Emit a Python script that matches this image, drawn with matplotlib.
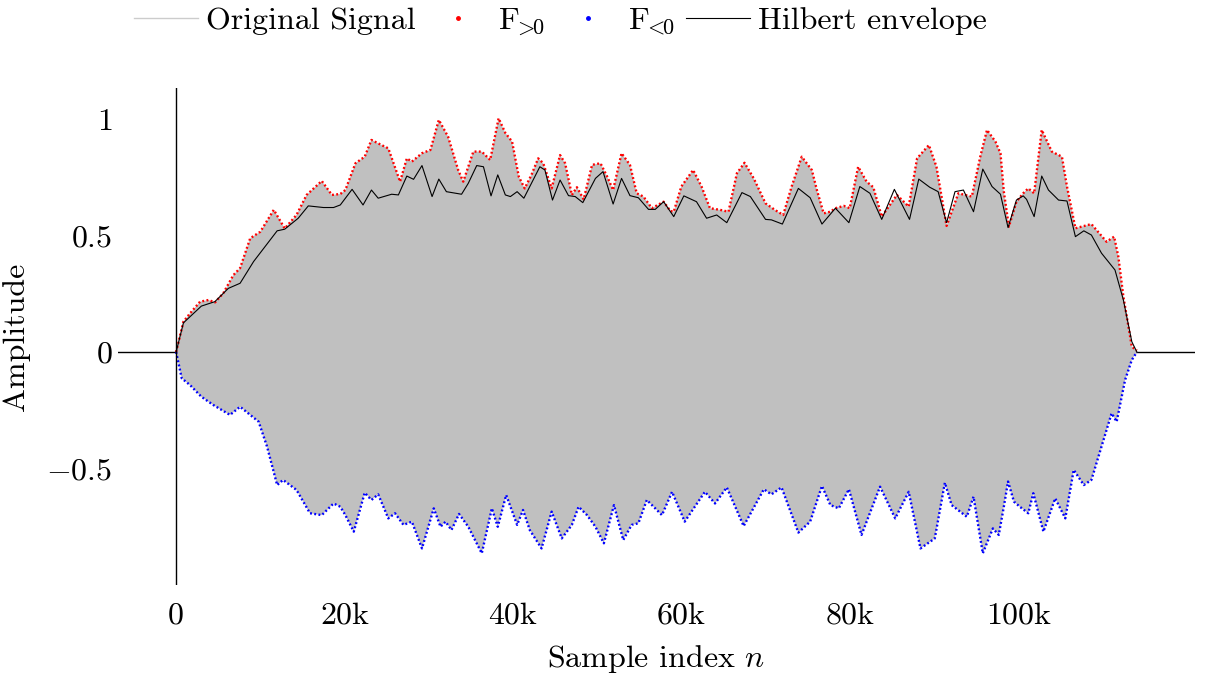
import numpy as np
import matplotlib
matplotlib.use("Agg")
import matplotlib.pyplot as plt
from matplotlib.lines import Line2D

# Envelope readings, sample index in thousands
upper_k = [0.0, 0.87, 1.66, 2.85, 3.84, 4.63, 5.6, 6.8, 7.6, 8.8, 10.0, 11.6, 12.9,
           14.3, 15.5, 17.3, 18.5, 19.5, 20.1, 21.3, 22.4, 23.2, 24.4, 25.2, 26.6,
           27.4, 28.0, 29.2, 30.2, 31.2, 32.3, 33.5, 34.1, 35.3, 36.3, 37.3, 38.3,
           39.1, 39.9, 40.7, 41.4, 42.2, 43.0, 43.6, 44.6, 45.6, 46.2, 47.0, 47.6,
           48.4, 49.4, 50.4, 51.2, 51.9, 52.9, 53.9, 54.7, 55.5, 56.5, 57.9, 58.7,
           59.1, 60.0, 61.4, 62.4, 63.4, 64.6, 65.6, 66.6, 67.5, 68.6, 70.0, 71.1,
           72.1, 73.1, 74.3, 75.5, 76.1, 76.9, 77.7, 78.3, 79.3, 80.0, 81.0, 82.0,
           82.8, 83.8, 85.6, 87.0, 88.0, 89.4, 90.3, 91.5, 92.9, 94.5, 95.5, 96.3,
           97.3, 97.9, 98.3, 98.9, 99.8, 100.6, 101.2, 101.9, 102.8, 104.0, 105.2,
           105.8, 106.8, 108.7, 110.5, 111.4, 111.9, 112.5, 113.1, 113.5, 114.1]
upper_amp = [0.0, 0.13, 0.166, 0.216, 0.223, 0.213, 0.252, 0.33, 0.36, 0.488, 0.516,
             0.61, 0.53, 0.588, 0.674, 0.734, 0.674, 0.678, 0.695, 0.81, 0.838, 0.91,
             0.888, 0.874, 0.731, 0.831, 0.817, 0.853, 0.867, 0.996, 0.924, 0.781,
             0.731, 0.86, 0.86, 0.824, 1.003, 0.94, 0.903, 0.752, 0.702, 0.76, 0.831,
             0.81, 0.702, 0.845, 0.81, 0.674, 0.707, 0.655, 0.803, 0.81, 0.752, 0.695,
             0.853, 0.803, 0.681, 0.667, 0.617, 0.645, 0.605, 0.602, 0.71, 0.781,
             0.71, 0.617, 0.61, 0.602, 0.767, 0.812, 0.745, 0.638, 0.61, 0.588, 0.71,
             0.838, 0.781, 0.695, 0.595, 0.602, 0.617, 0.627, 0.617, 0.795, 0.731,
             0.707, 0.581, 0.674, 0.624, 0.831, 0.888, 0.795, 0.541, 0.681, 0.667,
             0.838, 0.953, 0.903, 0.853, 0.688, 0.538, 0.645, 0.681, 0.702, 0.681,
             0.953, 0.86, 0.838, 0.71, 0.531, 0.549, 0.473, 0.495, 0.409, 0.237,
             0.109, 0.023, 0.006]

lower_k = [0.0, 0.67, 1.66, 3.0, 4.4, 6.4, 7.6, 8.8, 9.8, 10.8, 12.0, 12.7, 14.3,
           15.9, 17.3, 18.7, 19.5, 20.1, 21.1, 22.4, 23.2, 24.0, 25.2, 26.0, 27.0,
           28.0, 29.2, 30.6, 31.4, 32.0, 32.7, 33.6, 34.7, 36.3, 37.5, 38.2, 39.2,
           40.5, 41.2, 42.0, 43.4, 44.6, 45.8, 47.0, 47.8, 48.8, 49.8, 50.8, 52.0,
           53.1, 54.1, 54.9, 55.9, 57.7, 58.9, 60.4, 62.8, 64.0, 65.4, 67.4, 69.8,
           70.7, 71.9, 73.9, 75.3, 76.7, 77.7, 78.7, 79.9, 81.4, 83.6, 85.4, 87.0,
           88.4, 90.1, 91.3, 92.1, 93.9, 94.7, 95.8, 97.0, 97.7, 98.3, 98.8, 99.5,
           100.2, 101.2, 101.8, 103.0, 104.4, 105.6, 106.6, 107.8, 108.7, 109.9,
           111.1, 111.7, 112.7, 113.5, 114.1]
lower_amp = [0.0, -0.113, -0.142, -0.192, -0.227, -0.27, -0.235, -0.27, -0.299,
             -0.406, -0.571, -0.549, -0.592, -0.692, -0.70, -0.65, -0.664, -0.70,
             -0.771, -0.604, -0.635, -0.611, -0.714, -0.692, -0.742, -0.728, -0.843,
             -0.671, -0.75, -0.728, -0.764, -0.695, -0.75, -0.864, -0.671, -0.75,
             -0.614, -0.742, -0.678, -0.764, -0.843, -0.685, -0.80, -0.742, -0.664,
             -0.70, -0.75, -0.821, -0.657, -0.807, -0.742, -0.735, -0.635, -0.70,
             -0.60, -0.728, -0.60, -0.65, -0.581, -0.747, -0.589, -0.611, -0.581,
             -0.775, -0.728, -0.575, -0.657, -0.671, -0.589, -0.785, -0.578, -0.714,
             -0.60, -0.843, -0.80, -0.561, -0.657, -0.707, -0.621, -0.864, -0.757,
             -0.785, -0.664, -0.556, -0.642, -0.664, -0.692, -0.606, -0.771, -0.628,
             -0.714, -0.506, -0.571, -0.549, -0.406, -0.263, -0.299, -0.12, -0.034,
             0.0]

hilbert_k = [0.0, 0.87, 3.0, 4.6, 6.2, 7.6, 9.2, 12.0, 12.9, 14.5, 15.7, 17.5, 18.7,
             19.5, 20.9, 22.2, 23.2, 24.0, 25.6, 26.4, 27.4, 28.2, 29.2, 30.4, 31.2,
             32.1, 33.9, 34.7, 35.7, 36.5, 37.4, 38.2, 39.1, 39.7, 40.5, 41.3, 43.2,
             43.8, 44.7, 45.6, 46.6, 47.4, 48.3, 49.8, 50.7, 51.9, 52.9, 53.9, 54.9,
             56.1, 56.9, 57.9, 59.1, 60.3, 61.8, 63.0, 64.2, 65.4, 67.2, 68.2, 70.0,
             70.7, 72.0, 73.9, 75.3, 76.7, 78.3, 79.9, 81.2, 82.4, 83.8, 85.3, 87.1,
             88.2, 89.5, 90.5, 91.5, 92.5, 93.5, 94.7, 95.8, 96.9, 97.9, 98.8, 99.8,
             100.6, 101.0, 101.9, 102.8, 103.6, 104.8, 105.8, 106.8, 107.8, 108.7,
             109.9, 111.5, 112.5, 113.5, 114.1]
hilbert_amp = [0.0, 0.125, 0.197, 0.216, 0.273, 0.295, 0.388, 0.52, 0.527, 0.574,
               0.627, 0.62, 0.62, 0.631, 0.698, 0.631, 0.695, 0.66, 0.677, 0.674,
               0.755, 0.741, 0.80, 0.667, 0.742, 0.688, 0.677, 0.724, 0.80, 0.795,
               0.67, 0.76, 0.674, 0.667, 0.688, 0.66, 0.795, 0.781, 0.652, 0.738,
               0.671, 0.667, 0.641, 0.745, 0.774, 0.635, 0.745, 0.671, 0.662, 0.612,
               0.612, 0.645, 0.581, 0.67, 0.645, 0.574, 0.588, 0.555, 0.684, 0.667,
               0.569, 0.567, 0.549, 0.702, 0.662, 0.549, 0.617, 0.555, 0.71, 0.681,
               0.569, 0.698, 0.569, 0.742, 0.707, 0.688, 0.555, 0.688, 0.695, 0.602,
               0.785, 0.71, 0.677, 0.534, 0.652, 0.67, 0.655, 0.581, 0.755, 0.695,
               0.652, 0.648, 0.495, 0.52, 0.502, 0.424, 0.352, 0.223, 0.044, 0.0]

xtick_pos = [0, 20000, 40000, 60000, 80000, 100000]
xtick_labels = ["0", "20k", "40k", "60k", "80k", "100k"]
ytick_pos = [-0.5, 0, 0.5, 1]
ytick_labels = [r"$-0.5$", r"$0$", r"$0.5$", r"$1$"]

plt.rcParams["font.family"] = "cmr10"
plt.rcParams["mathtext.fontset"] = "cm"
plt.rcParams["font.size"] = 23
plt.rcParams["axes.unicode_minus"] = False


def main():
    up_n = np.array(upper_k) * 1000
    lo_n = np.array(lower_k) * 1000
    hb_n = np.array(hilbert_k) * 1000

    fig = plt.figure(figsize=(12.09, 6.82), dpi=100)
    ax = fig.add_axes([0.0976, 0.1422, 0.8908, 0.7288])

    # axis lines through the origin
    ax.axhline(0, color="black", lw=1.0, zorder=1)
    ax.axvline(0, color="black", lw=1.0, zorder=4)

    # signal body between the two peak envelopes
    ax.fill(np.r_[up_n, lo_n[::-1]], np.r_[upper_amp, lower_amp[::-1]],
            color="#c0c0c0", lw=0, zorder=2)

    ax.plot(up_n, upper_amp, color="red", lw=1.7, ls=(0, (0.8, 1.0)), zorder=3)
    ax.plot(lo_n, lower_amp, color="blue", lw=1.7, ls=(0, (0.8, 1.0)), zorder=3)
    ax.plot(hb_n, hilbert_amp, color="black", lw=0.8, zorder=3)

    ax.set_xlim(-6900, 121000)
    ax.set_ylim(-1.0, 1.133)
    for s in ax.spines.values():
        s.set_visible(False)
    ax.set_xticks(xtick_pos)
    ax.set_xticklabels(xtick_labels)
    ax.set_yticks(ytick_pos)
    ax.set_yticklabels(ytick_labels)
    ax.tick_params(axis="x", length=0, pad=12)
    ax.tick_params(axis="y", length=0, pad=4)
    ax.set_xlabel(r"Sample index $n$", labelpad=10)
    ax.set_ylabel("Amplitude", labelpad=12)

    handles = [
        Line2D([], [], color="#cccccc", lw=1.0),
        Line2D([], [], color="red", marker="o", ms=2.5, ls="none"),
        Line2D([], [], color="blue", marker="o", ms=2.5, ls="none"),
        Line2D([], [], color="black", lw=0.8),
    ]
    labels = ["Original Signal", r"$\mathrm{F}_{\!\!>\!\!0}$", r"$\mathrm{F}_{\!\!<\!\!0}$",
              "Hilbert envelope"]
    fig.legend(handles, labels, loc="center", bbox_to_anchor=(560 / 1209, 1 - 22 / 682),
               ncol=4, frameon=False, handlelength=2.0, handletextpad=0.25,
               columnspacing=0.35, borderpad=0, borderaxespad=0)

    fig.savefig("out.png", dpi=100)
    plt.close(fig)


if __name__ == "__main__":
    main()
